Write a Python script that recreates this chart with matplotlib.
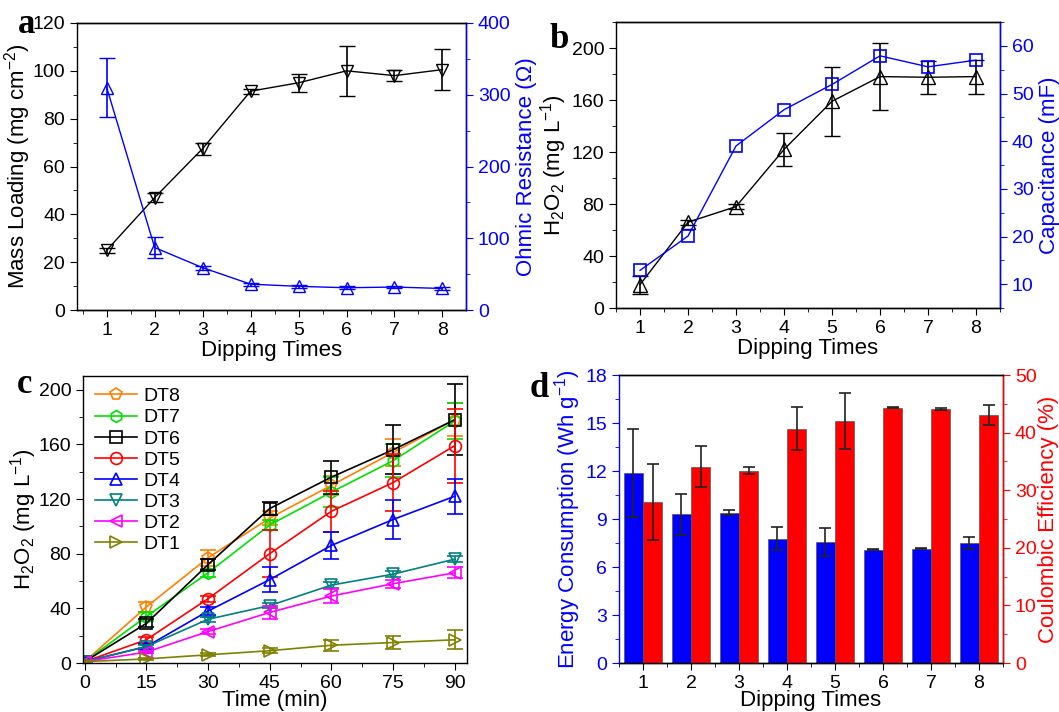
import matplotlib
matplotlib.use("Agg")
import matplotlib.pyplot as plt
from matplotlib.ticker import MultipleLocator
import numpy as np

plt.rcParams['font.family'] = ['Liberation Sans', 'DejaVu Sans']
plt.rcParams['mathtext.fontset'] = 'custom'
plt.rcParams['mathtext.rm'] = 'Liberation Sans'
plt.rcParams['mathtext.it'] = 'Liberation Sans:italic'
plt.rcParams['axes.linewidth'] = 1.0
plt.rcParams['xtick.direction'] = 'out'
plt.rcParams['ytick.direction'] = 'out'
plt.rcParams['xtick.major.size'] = 5
plt.rcParams['ytick.major.size'] = 5
plt.rcParams['xtick.minor.size'] = 3
plt.rcParams['ytick.minor.size'] = 3
plt.rcParams['xtick.labelsize'] = 14
plt.rcParams['ytick.labelsize'] = 14
plt.rcParams['axes.labelsize'] = 16

# panel a
dips = [1, 2, 3, 4, 5, 6, 7, 8]
mass_loading = [25, 47, 67.5, 91.5, 95, 100, 98, 100.5]
mass_err = [1, 2, 2.5, 1, 3.7, 10.5, 2.3, 8.5]
ohmic = [310, 87, 59, 36, 33, 31, 32, 30]
ohmic_err = [41, 15, 3, 2, 2, 2, 2, 2]

# panel b
h2o2_b = [18, 66, 78, 122, 159, 178, 177.5, 178]
h2o2_b_err = [7, 2, 2, 13, 26.5, 26, 12.7, 13]
capacitance = [12.9, 20.1, 39.0, 46.6, 51.9, 57.9, 55.6, 57.0]

# panel c
times = [0, 15, 30, 45, 60, 75, 90]
series_names = ['DT8', 'DT7', 'DT6', 'DT5', 'DT4', 'DT3', 'DT2', 'DT1']
series_vals = [
    [1, 41, 77, 106, 130, 154, 178],
    [1, 34, 66, 101, 125, 148, 177],
    [1, 29, 72, 113, 136, 156, 178],
    [1, 17, 47, 80, 111, 132, 159],
    [1, 12, 38, 61, 86, 105, 122],
    [1, 12, 32, 42, 57, 65, 76],
    [1, 8, 23, 37, 49, 58, 66],
    [1, 3, 6, 9, 13, 15, 17],
]
series_err = [
    [0, 4, 6, 5, 7, 10, 12],
    [0, 3, 3, 4, 11, 12, 13],
    [0, 3, 4, 5, 12, 18, 26],
    [0, 2, 2, 17, 15, 21, 27],
    [0, 2, 3, 9, 10, 14, 13],
    [0, 1, 2, 2, 2, 2, 2],
    [0, 1, 2, 5, 5, 3, 4],
    [0, 1, 1, 2, 4, 5, 7],
]
series_colors = ['#FF8000', '#00E000', '#000000', '#FF0000', '#0000FF', '#008080', '#FF00FF', '#808000']
series_markers = ['p', 'h', 's', 'o', '^', 'v', '<', '>']

# panel d
energy = [11.89, 9.3, 9.39, 7.78, 7.57, 7.09, 7.13, 7.49]
energy_err = [2.76, 1.28, 0.16, 0.7, 0.87, 0.03, 0.03, 0.36]
coulombic = [28.0, 34.1, 33.4, 40.7, 42.0, 44.3, 44.1, 43.05]
coulombic_err = [6.6, 3.6, 0.6, 3.7, 4.8, 0.1, 0.1, 1.7]

BLUE = '#0000FF'
RED = '#FF0000'

fig = plt.figure(figsize=(10.59, 7.12), dpi=100)


def style_ax(ax):
    ax.tick_params(which='both', top=False, right=False)


def color_right(ax, color):
    ax.spines['right'].set_color(color)
    ax.tick_params(axis='y', which='both', colors=color)
    ax.yaxis.label.set_color(color)


# ---- a ----
axa = fig.add_axes([0.0727, 0.5646, 0.3673, 0.4031])
style_ax(axa)
axa.errorbar(dips, mass_loading, yerr=mass_err, color='black', marker='v', ms=9,
             mfc='none', mew=1, lw=1, capsize=6, elinewidth=1.2, capthick=1.2)
axa.set_xlim(0.38, 8.49)
axa.set_ylim(0, 120)
axa.xaxis.set_major_locator(MultipleLocator(1))
axa.xaxis.set_minor_locator(MultipleLocator(0.5))
axa.yaxis.set_major_locator(MultipleLocator(20))
axa.yaxis.set_minor_locator(MultipleLocator(10))
axa.set_xlabel('Dipping Times', labelpad=1)
axa.set_ylabel('Mass Loading (mg cm$^{-2}$)', labelpad=0)
axa2 = axa.twinx()
axa2.errorbar(dips, ohmic, yerr=ohmic_err, color=BLUE, marker='^', ms=9,
              mfc='none', mew=1, lw=1, capsize=6, elinewidth=1.2, capthick=1.2)
axa2.set_ylim(0, 400)
axa2.yaxis.set_major_locator(MultipleLocator(100))
axa2.yaxis.set_minor_locator(MultipleLocator(50))
axa2.set_ylabel('Ohmic Resistance (Ω)')
color_right(axa2, BLUE)
axa2.spines['left'].set_visible(False)

# ---- b ----
axb = fig.add_axes([0.5817, 0.5674, 0.3626, 0.4017])
style_ax(axb)
axb.errorbar(dips, h2o2_b, yerr=h2o2_b_err, color='black', marker='^', ms=10,
             mfc='none', mew=1, lw=1, capsize=6, elinewidth=1.2, capthick=1.2)
axb.set_xlim(0.5, 8.5)
axb.set_ylim(0, 220)
axb.xaxis.set_major_locator(MultipleLocator(1))
axb.xaxis.set_minor_locator(MultipleLocator(0.5))
axb.yaxis.set_major_locator(MultipleLocator(40))
axb.yaxis.set_minor_locator(MultipleLocator(20))
axb.set_xlabel('Dipping Times', labelpad=1)
axb.set_ylabel('H$_2$O$_2$ (mg L$^{-1}$)', labelpad=2)
axb2 = axb.twinx()
axb2.plot(dips, capacitance, color=BLUE, marker='s', ms=8, mfc='none', mew=1.2, lw=1)
axb2.set_ylim(5, 65)
axb2.yaxis.set_major_locator(MultipleLocator(10))
axb2.yaxis.set_minor_locator(MultipleLocator(5))
axb2.set_ylabel('Capacitance (mF)')
color_right(axb2, BLUE)
axb2.spines['left'].set_visible(False)

# ---- c ----
axc = fig.add_axes([0.0784, 0.0688, 0.3626, 0.4031])
style_ax(axc)
for name, vals, errs, col, mk in zip(series_names, series_vals, series_err,
                                     series_colors, series_markers):
    axc.errorbar(times, vals, yerr=errs, fmt='none', ecolor=col, capsize=6,
                 elinewidth=1.2, capthick=1.2)
    axc.plot(times, vals, color=col, marker=mk, ms=8.5, mfc='none', mew=1.2,
             lw=1.2, label=name)
axc.set_xlim(-0.4, 93)
axc.set_ylim(0, 210)
axc.xaxis.set_major_locator(MultipleLocator(15))
axc.xaxis.set_minor_locator(MultipleLocator(7.5))
axc.yaxis.set_major_locator(MultipleLocator(40))
axc.yaxis.set_minor_locator(MultipleLocator(20))
axc.set_xlabel('Time (min)', labelpad=-1)
axc.set_ylabel('H$_2$O$_2$ (mg L$^{-1}$)', labelpad=0)
axc.legend(loc='upper left', frameon=False, fontsize=14, handlelength=2.2,
           labelspacing=0.18, handletextpad=0.3, borderaxespad=0.3,
           borderpad=0.3)

# ---- d ----
axd = fig.add_axes([0.5845, 0.0688, 0.3626, 0.4045])
style_ax(axd)
x = np.array(dips)
axd.bar(x - 0.2, energy, width=0.4, color=BLUE, edgecolor='#555555', lw=0.5,
        yerr=energy_err, capsize=4,
        error_kw=dict(ecolor='#222222', elinewidth=1.2, capthick=1.2))
axd.set_xlim(0.5, 8.5)
axd.set_ylim(0, 18)
axd.xaxis.set_major_locator(MultipleLocator(1))
axd.xaxis.set_minor_locator(MultipleLocator(0.5))
axd.yaxis.set_major_locator(MultipleLocator(3))
axd.yaxis.set_minor_locator(MultipleLocator(1.5))
axd.set_xlabel('Dipping Times', labelpad=-1)
axd.set_ylabel('Energy Consumption (Wh g$^{-1}$)', color=BLUE, labelpad=2)
axd.tick_params(axis='y', which='both', colors=BLUE)
axd.spines['left'].set_color(BLUE)
axd2 = axd.twinx()
axd2.bar(x + 0.2, coulombic, width=0.4, color=RED, edgecolor='#555555', lw=0.5,
         yerr=coulombic_err, capsize=4,
         error_kw=dict(ecolor='#222222', elinewidth=1.2, capthick=1.2))
axd2.set_ylim(0, 50)
axd2.yaxis.set_major_locator(MultipleLocator(10))
axd2.yaxis.set_minor_locator(MultipleLocator(5))
axd2.set_ylabel('Coulombic Efficiency (%)', labelpad=1)
color_right(axd2, RED)
axd2.spines['left'].set_visible(False)

# panel letters
for letter, px, py in [('a', 18, 33), ('b', 549, 48), ('c', 17, 393), ('d', 530, 397)]:
    fig.text(px / 1059, 1 - py / 712, letter, fontsize=25, fontweight='bold',
             family='Liberation Serif', va='baseline', ha='left')

fig.savefig('out.png', dpi=100)
